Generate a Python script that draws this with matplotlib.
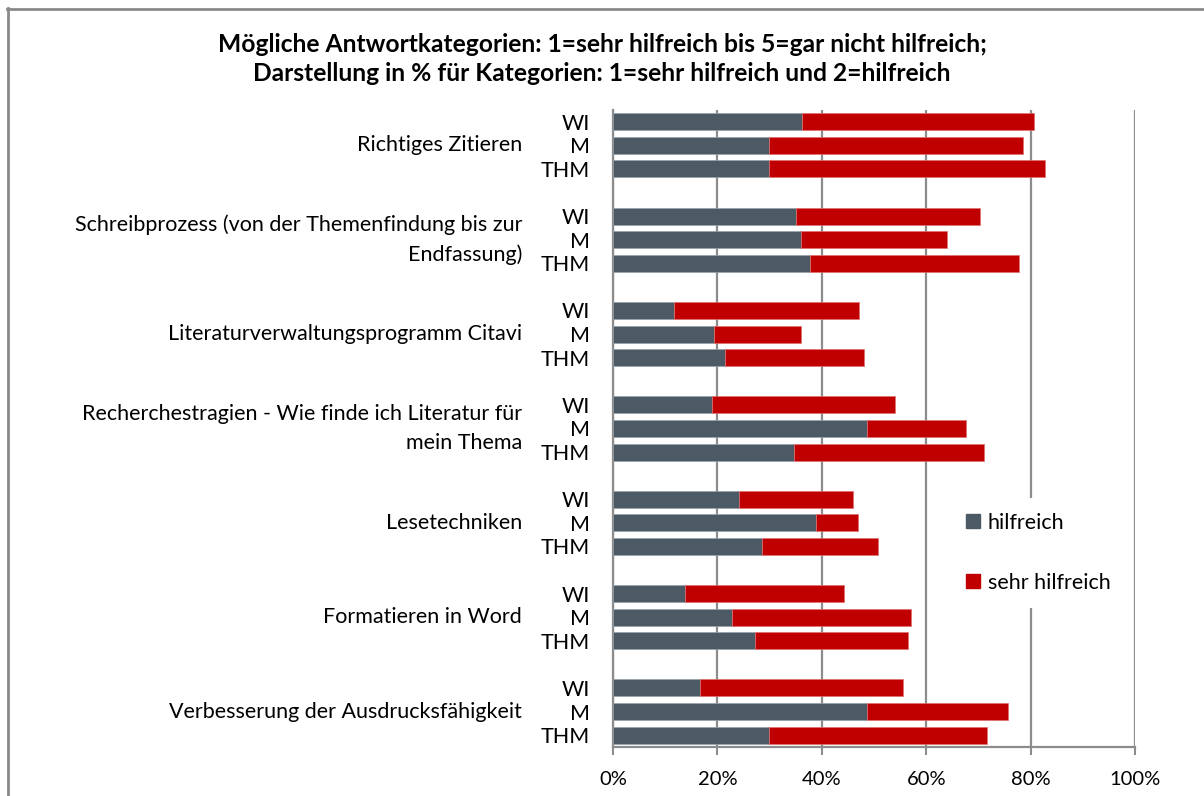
import matplotlib
matplotlib.use("Agg")
import matplotlib.pyplot as plt
from matplotlib.lines import Line2D
from matplotlib.patches import Patch
import numpy as np

plt.rcParams["font.family"] = ["Lato", "DejaVu Sans"]

categories = [
    "Richtiges Zitieren",
    "Schreibprozess (von der Themenfindung bis zur\nEndfassung)",
    "Literaturverwaltungsprogramm Citavi",
    "Recherchestragien - Wie finde ich Literatur für\nmein Thema",
    "Lesetechniken",
    "Formatieren in Word",
    "Verbesserung der Ausdrucksfähigkeit",
]
groups = ["WI", "M", "THM"]

# % "hilfreich" (2) per category, order WI, M, THM
hilfreich = [
    [36.2, 29.8, 29.9],
    [35.1, 36.1, 37.8],
    [11.7, 19.4, 21.4],
    [18.9, 48.6, 34.7],
    [24.2, 38.8, 28.5],
    [13.8, 22.8, 27.3],
    [16.6, 48.6, 29.9],
]
# % "sehr hilfreich" (1), stacked on top
sehr_hilfreich = [
    [44.5, 48.7, 52.8],
    [35.2, 27.8, 40.0],
    [35.4, 16.7, 26.7],
    [35.2, 19.0, 36.3],
    [21.7, 8.2, 22.2],
    [30.5, 34.2, 29.3],
    [38.9, 27.0, 41.7],
]

title = ("Mögliche Antwortkategorien: 1=sehr hilfreich bis 5=gar nicht hilfreich;\n"
         "Darstellung in % für Kategorien: 1=sehr hilfreich und 2=hilfreich")

GRAY = "#4b5a65"
RED = "#c00000"
GRID = "#8c8c8c"
FS = 15.5

fig = plt.figure(figsize=(12.04, 7.96), dpi=100)
ax = fig.add_axes([0.5091, 0.0616, 0.4336, 0.8003])

ypos, ylabels = [], []
for g in range(len(categories)):
    for j, grp in enumerate(groups):
        ypos.append(g * 4 + j)
        ylabels.append(grp)
ypos = np.array(ypos)
h = np.array(hilfreich).ravel()
s = np.array(sehr_hilfreich).ravel()

ax.barh(ypos, h, height=0.72, color=GRAY, edgecolor="#9aa3aa", linewidth=0.5, zorder=3)
ax.barh(ypos, s, left=h, height=0.72, color=RED, edgecolor="#e07070", linewidth=0.5,
        zorder=3)

ax.set_xlim(0, 100)
ax.set_ylim(len(categories) * 4 - 1.5, -0.5)
ax.set_xticks(range(0, 101, 20))
ax.set_xticklabels([f"{v}%" for v in range(0, 101, 20)], fontsize=14.5)
ax.set_yticks(ypos)
ax.set_yticklabels(ylabels, fontsize=FS)
ax.tick_params(axis="y", length=0, pad=16.5)
ax.tick_params(axis="x", length=6, width=1.5, color=GRID, direction="out", pad=11)
ax.grid(axis="x", color=GRID, linewidth=1.6, zorder=0)
for side in ["top", "right"]:
    ax.spines[side].set_visible(False)
for side in ["left", "bottom"]:
    ax.spines[side].set_color(GRID)
    ax.spines[side].set_linewidth(1.6)

# category labels, centred on the M bar of each group
for g, cat in enumerate(categories):
    ax.text(-17.4, g * 4 + 1, cat, ha="right", va="center",
            fontsize=FS, multialignment="right", linespacing=1.55,
            transform=ax.transData, clip_on=False)

leg = ax.legend(handles=[Patch(color=GRAY, label="hilfreich"),
                         Patch(color=RED, label="sehr hilfreich")],
                loc="center left", bbox_to_anchor=(0.648, 0.305), frameon=True,
                fontsize=FS, handlelength=0.65, handleheight=0.65,
                handletextpad=0.35, labelspacing=1.85, borderpad=0.7,
                borderaxespad=0)
leg.get_frame().set_facecolor("white")
leg.get_frame().set_edgecolor("none")
leg.get_frame().set_alpha(1)
leg.set_zorder(5)

fig.text(0.5, 0.926, title, ha="center", va="center", fontsize=17.7, fontweight="bold",
         linespacing=1.32)

# outer frame (left and top edge visible)
fig.add_artist(Line2D([7.5 / 1204, 7.5 / 1204], [0, 1 - 8 / 796], color="#8a8a8a",
                      linewidth=2, transform=fig.transFigure))
fig.add_artist(Line2D([6.5 / 1204, 1], [1 - 8.5 / 796, 1 - 8.5 / 796], color="#8a8a8a",
                      linewidth=2, transform=fig.transFigure))

fig.savefig("out.png", dpi=100)
